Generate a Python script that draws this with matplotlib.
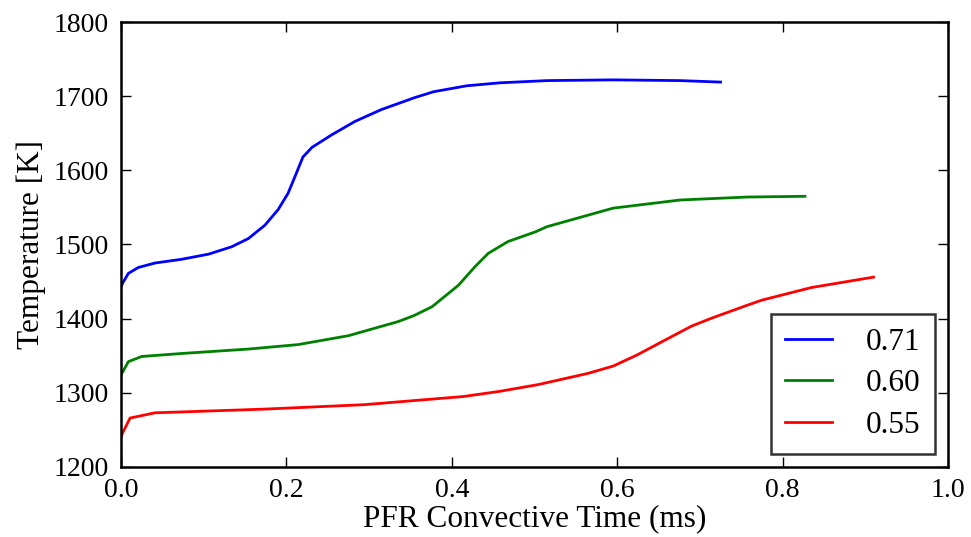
import matplotlib
matplotlib.use("Agg")
import matplotlib.pyplot as plt
import numpy as np

plt.rcParams['font.family'] = ['Liberation Serif', 'DejaVu Serif']
plt.rcParams['mathtext.fontset'] = 'stix'

# PFR temperature profiles for three equivalence ratios
labels = ["0.71", "0.60", "0.55"]
colors = ["blue", "green", "red"]

t_071 = [0.0, 0.002, 0.0089, 0.021, 0.041, 0.073, 0.106, 0.134, 0.154, 0.174, 0.190,
         0.202, 0.212, 0.220, 0.231, 0.255, 0.283, 0.315, 0.355, 0.378, 0.418,
         0.458, 0.515, 0.595, 0.676, 0.725]
T_071 = [1443, 1448, 1461, 1469, 1475, 1480, 1487, 1497, 1508, 1526, 1547,
         1569, 1596, 1618, 1631, 1648, 1666, 1682, 1698, 1706, 1714,
         1718, 1721, 1722, 1721, 1719]

t_060 = [0.0, 0.002, 0.0089, 0.025, 0.073, 0.154, 0.214, 0.275, 0.335, 0.354, 0.376,
         0.408, 0.428, 0.444, 0.468, 0.501, 0.515, 0.595, 0.676, 0.757, 0.827]
T_060 = [1324, 1328, 1342, 1349, 1353, 1359, 1365, 1377, 1396, 1404, 1416,
         1445, 1470, 1488, 1504, 1517, 1524, 1549, 1560, 1564, 1565]

t_055 = [0.0, 0.002, 0.011, 0.041, 0.173, 0.294, 0.414, 0.458, 0.504, 0.564, 0.595,
         0.624, 0.656, 0.690, 0.715, 0.757, 0.775, 0.835, 0.910]
T_055 = [1240, 1246, 1266, 1273, 1278, 1284, 1295, 1302, 1311, 1326, 1336,
         1351, 1370, 1390, 1401, 1418, 1425, 1442, 1456]

series = [(t_071, T_071), (t_060, T_060), (t_055, T_055)]

fig = plt.figure(figsize=(9.71, 5.37), dpi=100)
ax = fig.add_axes([0.1246, 0.1304, 0.8517, 0.8286])

for (t, T), lab, c in zip(series, labels, colors):
    ax.plot(t, T, color=c, lw=2.0, label=lab, solid_joinstyle='round')

ax.set_xlim(0.0, 1.0)
ax.set_ylim(1200, 1800)
ax.set_xticks(np.arange(0.0, 1.01, 0.2))
ax.set_yticks(np.arange(1200, 1801, 100))
ax.xaxis.set_major_formatter(matplotlib.ticker.FormatStrFormatter('%.1f'))
ax.tick_params(direction='in', length=7, width=1, labelsize=20,
               top=True, right=True)
ax.tick_params(axis='x', pad=8)
ax.tick_params(axis='y', pad=9)
for s in ax.spines.values():
    s.set_linewidth(1.8)

ax.set_xlabel("PFR Convective Time (ms)", fontsize=22.5, labelpad=1)
ax.set_ylabel("Temperature [K]", fontsize=22.5, labelpad=5)

leg = ax.legend(loc='lower right', fontsize=22.5, frameon=True, fancybox=False,
                edgecolor='black', handlelength=1.5, handletextpad=1.1,
                borderaxespad=0.42, labelspacing=0.4, borderpad=0.45)
leg.get_frame().set_linewidth(1.8)

fig.savefig("out.png", dpi=100)
